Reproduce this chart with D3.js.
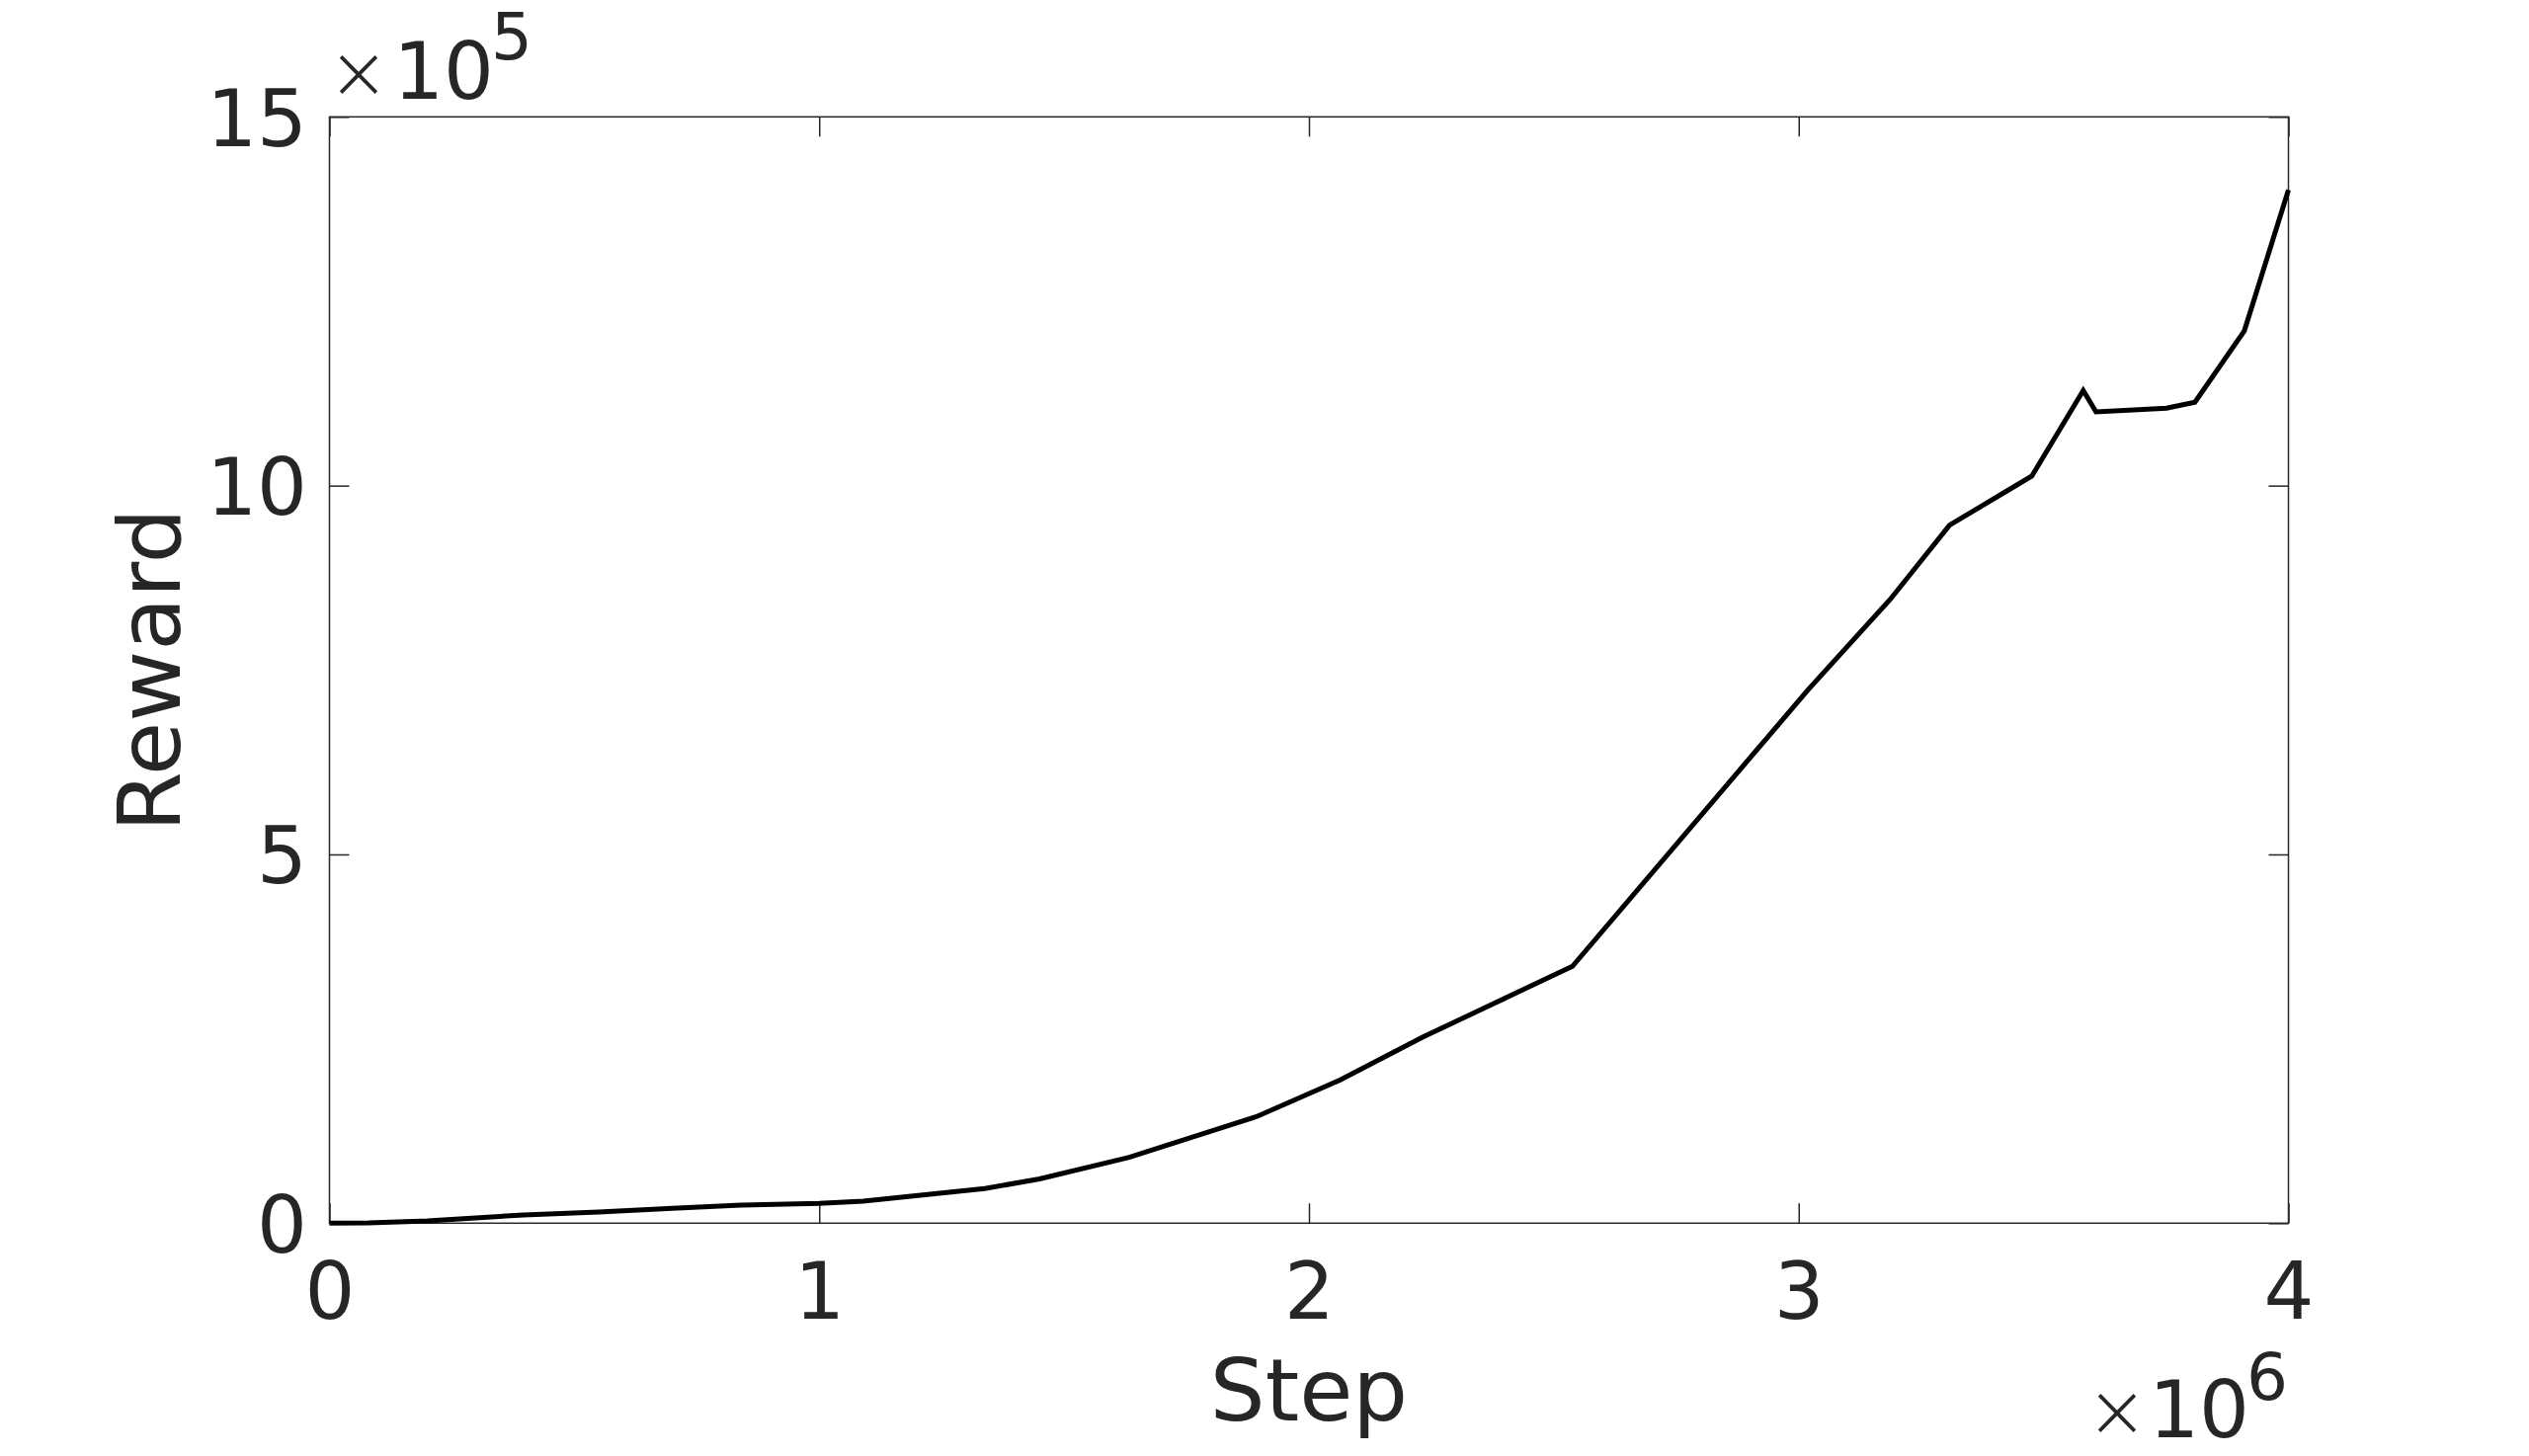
<!DOCTYPE html>
<html>
<head>
<meta charset="utf-8">
<script src="https://cdn.jsdelivr.net/npm/d3@7"></script>
<style>
  html, body { margin: 0; padding: 0; background: #fff; }
  svg { display: block; }
  text { font-family: "DejaVu Sans", sans-serif; fill: #262626; }
</style>
</head>
<body>
<script>
// Data (x in units of 1e6 steps, y in units of 1e5 reward)
const steps = [0, 0.08, 0.2, 0.396, 0.55, 0.7, 0.84, 1.0, 1.09, 1.338, 1.45, 1.633, 1.895, 2.064, 2.232, 2.538, 3.019, 3.187, 3.308, 3.476, 3.581, 3.607, 3.751, 3.809, 3.910, 4.0];
const rewards = [0, 0.004, 0.03, 0.111, 0.15, 0.2, 0.245, 0.268, 0.30, 0.469, 0.6, 0.892, 1.45, 1.942, 2.522, 3.482, 7.232, 8.459, 9.463, 10.13, 11.29, 11.0, 11.05, 11.13, 12.10, 14.01];
const xTicks = [0, 1, 2, 3, 4];
const yTicks = [0, 5, 10, 15];
const xLabel = "Step";
const yLabel = "Reward";
const xExp = "6";
const yExp = "5";

const W = 2560, H = 1474;
const L = 333.5, R = 2316.5, T = 118.3, B = 1238.3;
const ink = "#262626";

const svg = d3.select("body").append("svg").attr("width", W).attr("height", H);

const x = d3.scaleLinear().domain([0, 4]).range([L, R]);
const y = d3.scaleLinear().domain([0, 15]).range([B, T]);

// Box
svg.append("rect").attr("x", L).attr("y", T).attr("width", R - L).attr("height", B - T)
  .attr("fill", "none").attr("stroke", ink).attr("stroke-width", 1.5);

const tickLen = 20;
const fmt = d => String(d);

const xb = d3.axisBottom(x).tickValues(xTicks).tickSize(-tickLen).tickPadding(tickLen + 34).tickFormat(fmt);
const gxb = svg.append("g").attr("transform", `translate(0,${B})`).call(xb);
const xt = d3.axisTop(x).tickValues(xTicks).tickSize(-tickLen).tickFormat("");
const gxt = svg.append("g").attr("transform", `translate(0,${T})`).call(xt);
const yl = d3.axisLeft(y).tickValues(yTicks).tickSize(-tickLen).tickPadding(0).tickFormat(fmt);
const gyl = svg.append("g").attr("transform", `translate(${L},0)`).call(yl);
const yr = d3.axisRight(y).tickValues(yTicks).tickSize(-tickLen).tickFormat("");
const gyr = svg.append("g").attr("transform", `translate(${R},0)`).call(yr);

[gxb, gxt, gyl, gyr].forEach(g => {
  g.select(".domain").remove();
  g.selectAll(".tick line").attr("stroke", ink).attr("stroke-width", 1.5);
  g.selectAll(".tick text").attr("font-family", "DejaVu Sans").attr("fill", ink).attr("font-size", 80);
});
gxb.selectAll(".tick text").attr("dy", null).attr("y", 1335 - B);
gyl.selectAll(".tick text").attr("dy", null).attr("x", -(L - 311)).attr("y", 29).attr("text-anchor", "end");

// Line
const line = d3.line().x((d, i) => x(steps[i])).y((d, i) => y(rewards[i]));
svg.append("path").datum(rewards).attr("d", line)
  .attr("fill", "none").attr("stroke", "#000").attr("stroke-width", 5)
  .attr("stroke-linejoin", "miter");

// Exponent labels
function expLabel(cx, baseX10End, baseline, supBaseline, expText) {
  svg.append("text").attr("x", cx).attr("y", baseline - 1).attr("text-anchor", "middle")
    .attr("font-size", 74).attr("font-weight", 300).text("\u00d7");
  svg.append("text").attr("x", baseX10End).attr("y", baseline).attr("text-anchor", "end")
    .attr("font-size", 80).text("10");
  svg.append("text").attr("x", baseX10End - 3).attr("y", supBaseline).attr("text-anchor", "start")
    .attr("font-size", 66).text(expText);
}
expLabel(363, 500, 100, 60, yExp);
expLabel(2143, 2277, 1455, 1417, xExp);

// Axis labels
svg.append("text").attr("x", (L + R) / 2).attr("y", 1438).attr("text-anchor", "middle")
  .attr("font-size", 88).text(xLabel);
svg.append("text").attr("transform", `translate(181.7,${(T + B) / 2}) rotate(-90)`)
  .attr("text-anchor", "middle").attr("font-size", 88).text(yLabel);
</script>
</body>
</html>
